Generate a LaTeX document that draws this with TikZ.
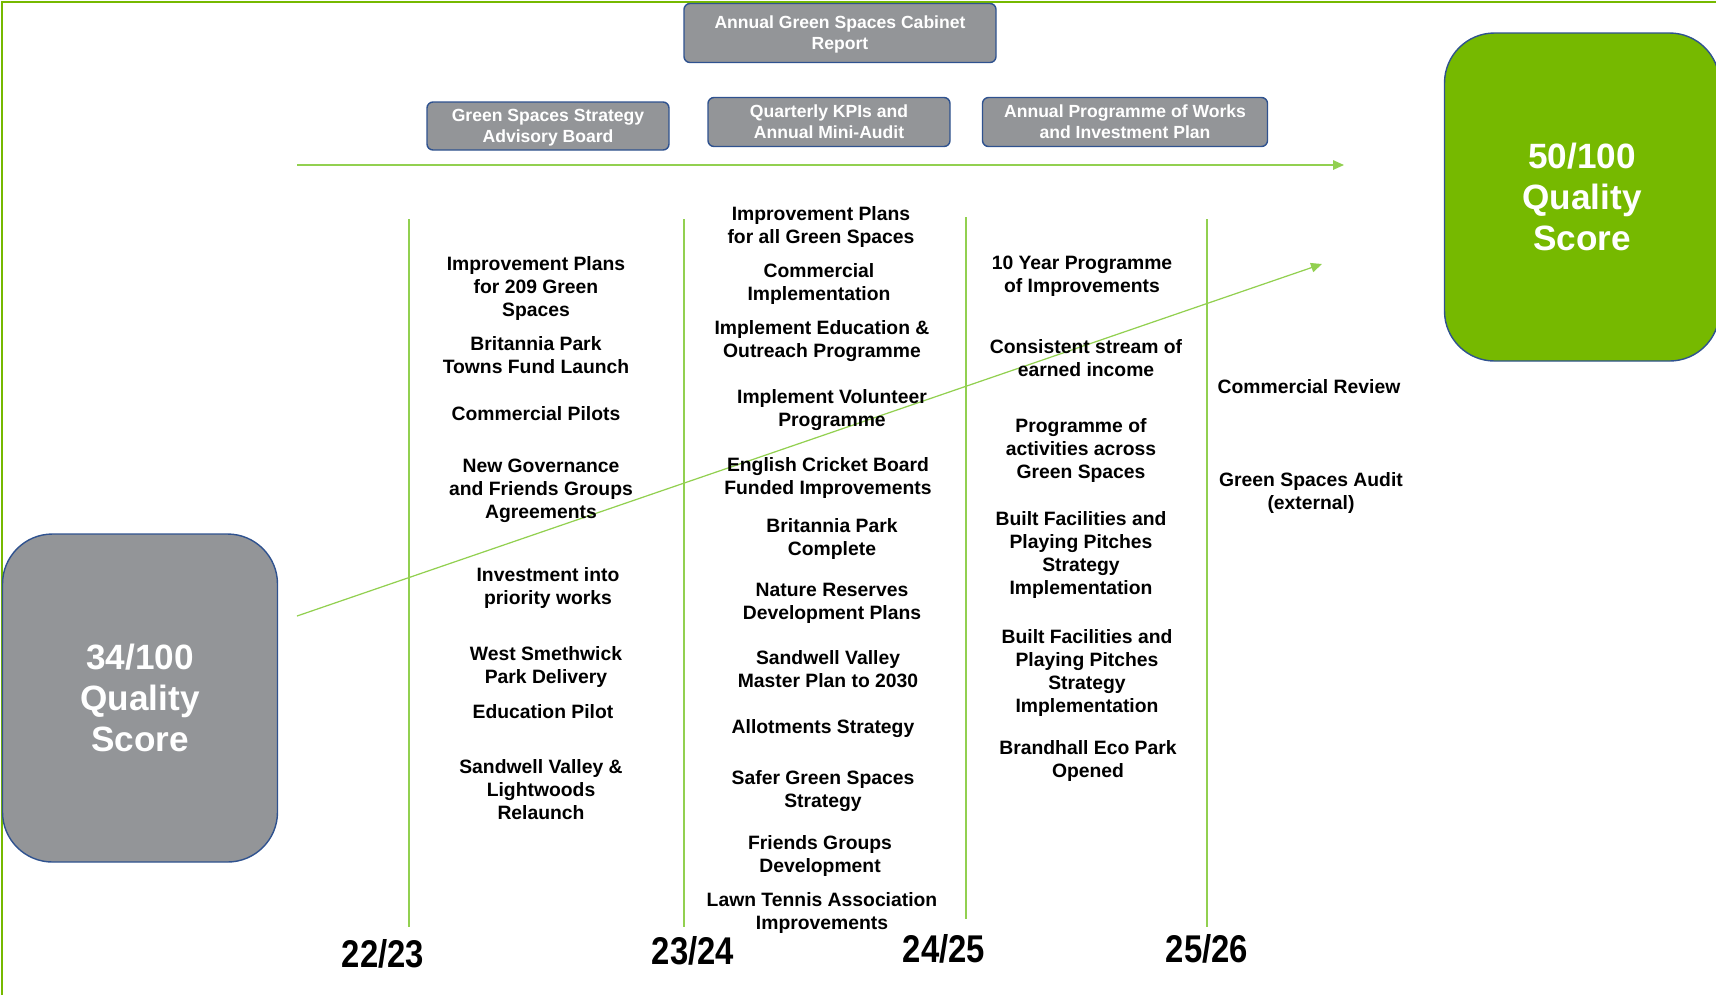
\documentclass[tikz,border=0pt]{standalone}
\usepackage{fontspec}
\setmainfont{Liberation Sans}
\newfontfamily\yearfont[FakeStretch=0.85]{Liberation Sans}
\usepackage{xcolor}
\usetikzlibrary{positioning, arrows.meta}
\definecolor{boxgrey}{RGB}{147,149,152}
\definecolor{boxedge}{RGB}{47,82,143}
\definecolor{scoregreen}{RGB}{118,185,0}
\definecolor{linegreen}{RGB}{146,208,80}

\begin{document}
\begin{tikzpicture}[
  x=0.2mm, y=-0.2mm,
  report/.style={draw=boxedge, fill=boxgrey, line width=0.8pt,
                 rounded corners=1.2mm, text=white, align=center,
                 font=\bfseries\fontsize{10}{12}\selectfont, inner sep=0pt,
                 text depth=0pt},
  score/.style={draw=boxedge, fill=#1, line width=0.8pt,
                rounded corners=10mm, minimum width=55mm,
                minimum height=65.6mm, text=white, align=center,
                font=\bfseries\fontsize{20}{23.5}\selectfont},
  item/.style={font=\bfseries\fontsize{11}{13.1}\selectfont,
               align=center, inner sep=0pt, yshift=-0.45mm},
  year/.style={font=\yearfont\bfseries\fontsize{22}{24}\selectfont,
               inner sep=0pt},
  yearline/.style={draw=linegreen, line width=0.7pt},
  >={Triangle[length=2.2mm, width=1.9mm]}
]
  \clip (0,0) rectangle (1716,995);

  % Frame
  \draw[scoregreen, line width=1.6pt] (2,995) -- (2,2) -- (1716,2);

  % Reporting boxes
  \node[report, minimum width=62.4mm, minimum height=11.8mm] (cabinet)
    at (840,33) {Annual Green Spaces Cabinet\\Report};
  \node[report, minimum width=48.4mm, minimum height=9.6mm] (board)
    at (548,126) {Green Spaces Strategy\\Advisory Board};
  \node[report, minimum width=48.4mm, minimum height=9.8mm] (kpis)
    at (829,122) {Quarterly KPIs and\\Annual Mini-Audit};
  \node[report, minimum width=57mm, minimum height=9.8mm] (works)
    at (1125,122) {Annual Programme of Works\\and Investment Plan};

  % Scores
  \node[score=boxgrey] (now) at (140,698) {34/100\\Quality\\Score};
  \node[score=scoregreen] (target) at (1582,197) {50/100\\Quality\\Score};

  % Year lines
  \draw[yearline] (409,219) -- (409,927);
  \draw[yearline] (684,219) -- (684,927);
  \draw[yearline] (966,217) -- (966,919);
  \draw[yearline] (1207,219) -- (1207,927);

  % Arrows
  \coordinate (tstart) at (297,165);
  \coordinate (tend) at (1344,165);
  \coordinate (qstart) at (297,616);
  \coordinate (qend) at (1322,264);
  \draw[->, linegreen, line width=0.9pt] (tstart) -- (tend);
  \draw[->, linegreen, line width=0.7pt] (qstart) -- (qend);

  % 22/23
  \node[item] (c1a) at (536,286) {Improvement Plans\\for 209 Green\\Spaces};
  \node[item] (c1b) at (536,353) {Britannia Park\\Towns Fund Launch};
  \node[item] (c1c) at (536,411) {Commercial Pilots};
  \node[item] (c1d) at (541,489) {New Governance\\and Friends Groups\\Agreements};
  \node[item] (c1e) at (548,586) {Investment into\\priority works};
  \node[item] (c1f) at (546,665) {West Smethwick\\Park Delivery};
  \node[item] (c1g) at (543,709) {Education Pilot};
  \node[item] (c1h) at (541,787) {Sandwell Valley \&\\Lightwoods\\Relaunch};

  % 23/24
  \node[item] (c2a) at (821,225) {Improvement Plans\\for all Green Spaces};
  \node[item] (c2b) at (819,282) {Commercial\\Implementation};
  \node[item] (c2c) at (822,339) {Implement Education \&\\Outreach Programme};
  \node[item] (c2d) at (832,408) {Implement Volunteer\\Programme};
  \node[item] (c2e) at (828,476) {English Cricket Board\\Funded Improvements};
  \node[item] (c2f) at (832,537) {Britannia Park\\Complete};
  \node[item] (c2g) at (832,601) {Nature Reserves\\Development Plans};
  \node[item] (c2h) at (828,667) {Sandwell Valley\\Master Plan to 2030};
  \node[item] (c2i) at (823,726) {Allotments Strategy};
  \node[item] (c2j) at (823,789) {Safer Green Spaces\\Strategy};
  \node[item] (c2k) at (820,854) {Friends Groups\\Development};
  \node[item] (c2l) at (822,911) {Lawn Tennis Association\\Improvements};

  % 24/25
  \node[item] (c3a) at (1082,274) {10 Year Programme\\of Improvements};
  \node[item] (c3b) at (1086,356) {Consistent stream of\\earned income};
  \node[item] (c3c) at (1081,448) {Programme of\\activities across\\Green Spaces};
  \node[item] (c3d) at (1081,553)
    {Built Facilities and\\Playing Pitches\\Strategy\\Implementation};
  \node[item] (c3e) at (1087,671)
    {Built Facilities and\\Playing Pitches\\Strategy\\Implementation};
  \node[item] (c3f) at (1088,759) {Brandhall Eco Park\\Opened};

  % 25/26
  \node[item] (c4a) at (1309,384) {Commercial Review};
  \node[item] (c4b) at (1311,491) {Green Spaces Audit\\(external)};

  % Years
  \node[year] (y1) at (383,954) {22/23};
  \node[year] (y2) at (693,951) {23/24};
  \node[year] (y3) at (944,949) {24/25};
  \node[year] (y4) at (1207,949) {25/26};
\end{tikzpicture}
\end{document}
